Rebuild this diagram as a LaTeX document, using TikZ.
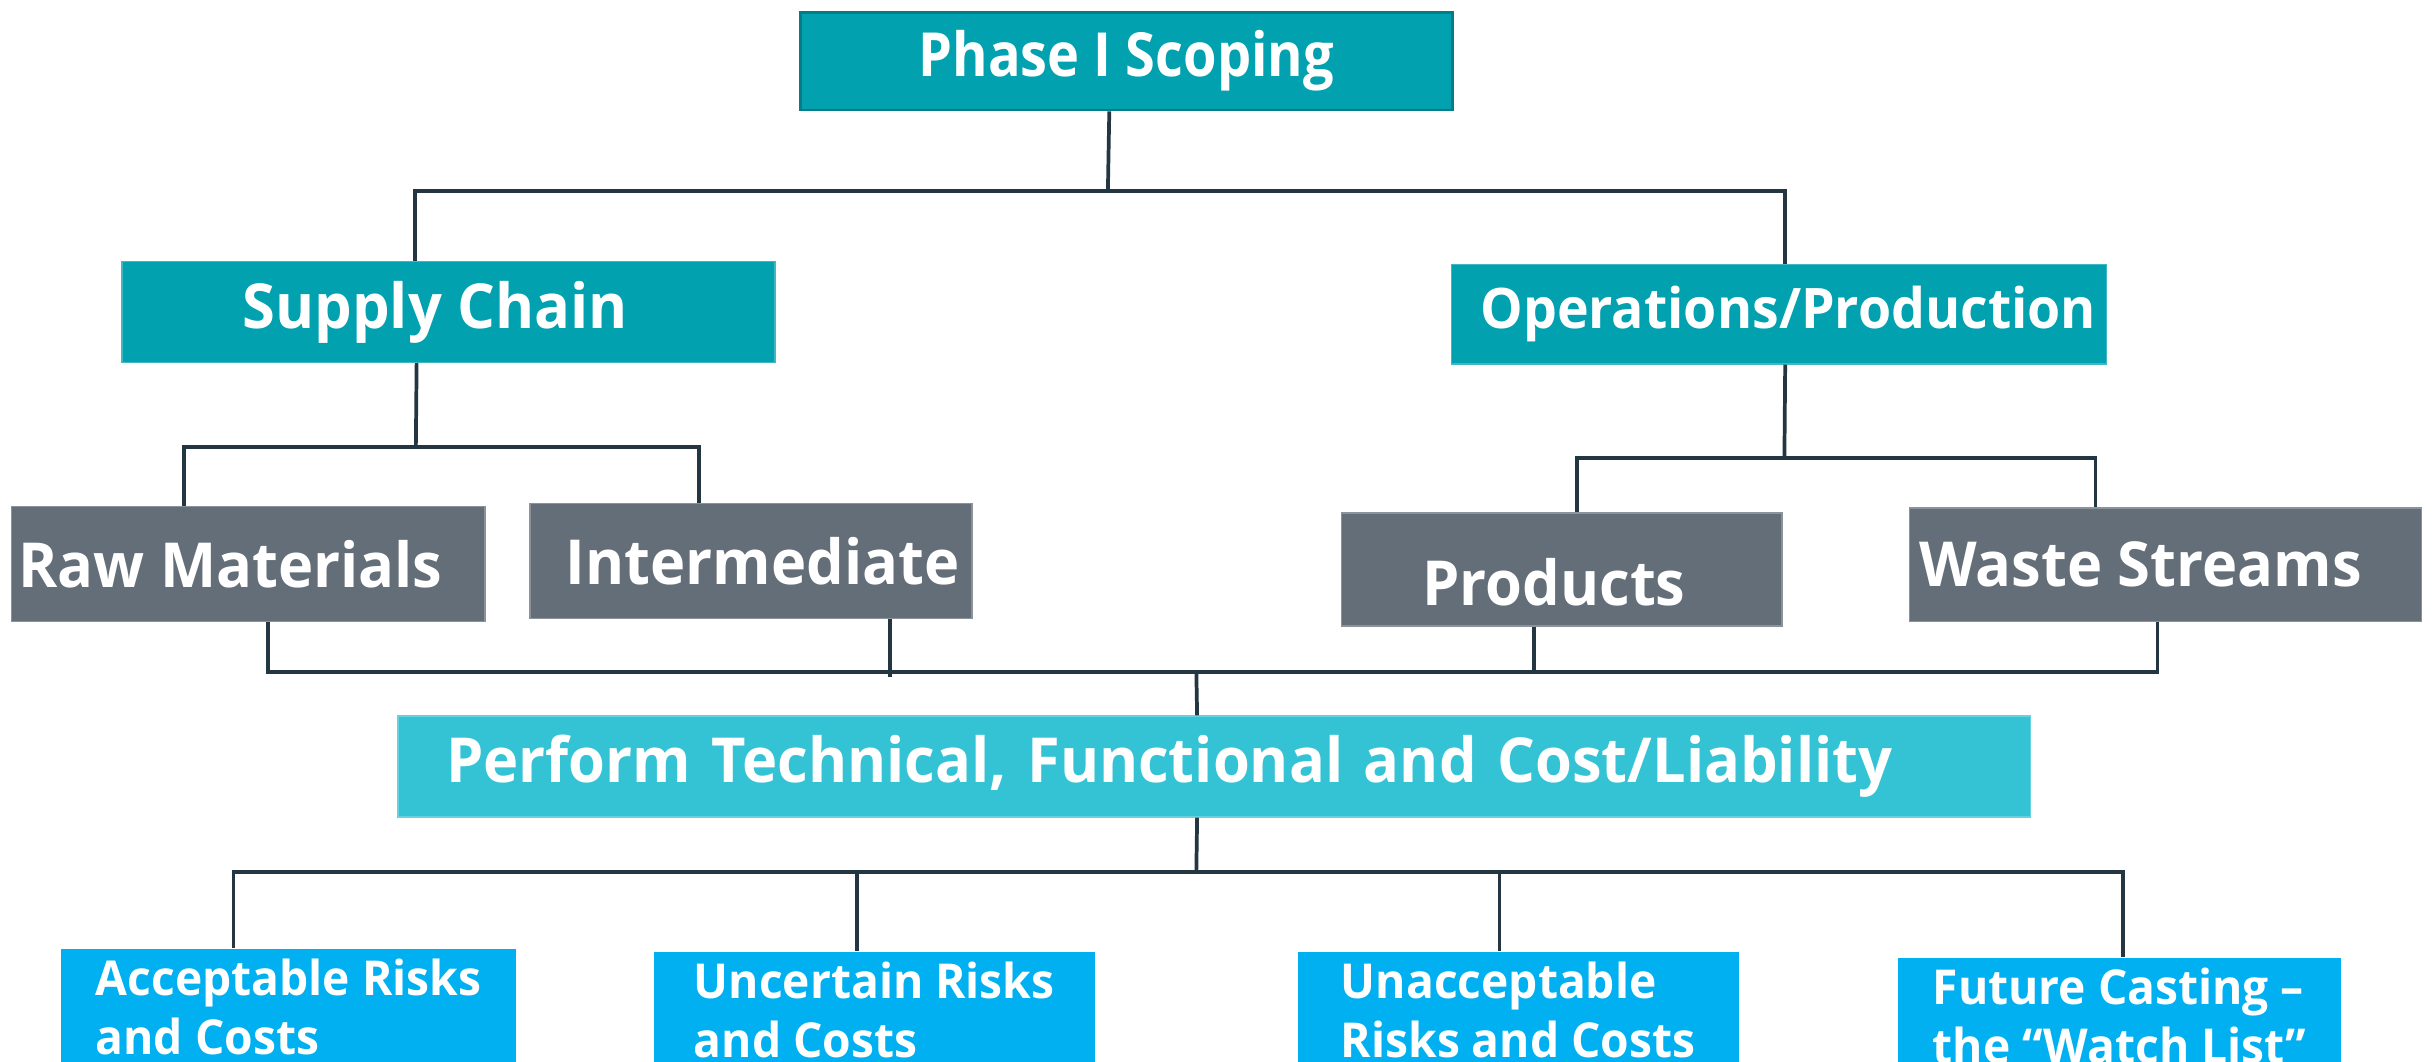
\documentclass[tikz,border=0pt]{standalone}
\usepackage{fontspec}
\setmainfont{Open Sans}[FakeStretch=0.96]
\newfontfamily\narrowfont{Open Sans}[FakeStretch=0.89]
\definecolor{tealc}{HTML}{01A1B0}
\definecolor{tealedge}{HTML}{007D88}
\definecolor{grayc}{HTML}{646E78}
\definecolor{cyanc}{HTML}{34C3D4}
\definecolor{bluec}{HTML}{00B0F0}
\definecolor{linec}{HTML}{233641}
\begin{document}
\begin{tikzpicture}[x=0.5pt,y=-0.5pt,
  box/.style={rectangle, inner sep=0pt, anchor=north west, text=white,
    font=\bfseries\fontsize{20}{24}\selectfont},
  tealbox/.style={box, fill=tealc, draw=tealc!75!white, line width=0.5pt},
  graybox/.style={box, fill=grayc, draw=grayc!75!white, line width=0.5pt},
  wide/.style={box, fill=cyanc, draw=cyanc!75!white, line width=0.5pt,
    align=left, inner xsep=15.5pt},
  leaf/.style={box, fill=bluec, align=left, inner xsep=0pt, inner ysep=3.2pt,
    text depth=10pt, font=\bfseries\fontsize{15.5}{19}\selectfont},
  conn/.style={draw=linec, line width=1.2pt}]
\useasboundingbox (0,0) rectangle (1568,684);
\clip (0,0) rectangle (1568,684);

% top level
\node[tealbox, draw=tealedge, line width=0.9pt, minimum width=210pt, minimum height=31.5pt,
  font=\narrowfont\bfseries\fontsize{19.6}{24}\selectfont]
  (phase) at (515,7) {Phase I Scoping};

% second level
\node[tealbox, minimum width=210.5pt, minimum height=32.5pt] (supply) at (78,168)
  {Supply Chain\hspace*{8.5pt}};
\node[tealbox, minimum width=211pt, minimum height=32pt,
  font=\bfseries\fontsize{18}{22}\selectfont] (ops) at (935,170)
  {\hspace*{6pt}Operations/Production};

% third level
\node[graybox, minimum width=152.5pt, minimum height=37pt] (raw) at (7,326)
  {Raw Materials\hspace*{11.5pt}};
\node[graybox, minimum width=142.5pt, minimum height=37pt] (inter) at (341,324)
  {\hspace*{7.5pt}Intermediate};
\node[graybox, minimum width=142pt, minimum height=36.5pt] (prod) at (864,330)
  {\rule{0pt}{23.7pt}Products\hspace*{5pt}};
\node[graybox, minimum width=165pt, minimum height=36.5pt] (waste) at (1230,327)
  {Waste Streams\hspace*{16pt}};

% assessment step
\node[wide, text width=495pt, minimum height=32.5pt] (perform) at (256,461)
  {Perform Technical, Functional and Cost/Liability};

% outcomes
\node[leaf, minimum width=146.5pt] (acc) at (39,611)
  {Acceptable Risks\\and Costs};
\node[leaf, minimum width=142pt] (unc) at (421,613)
  {Uncertain Risks\\and Costs};
\node[leaf, minimum width=142pt] (unacc) at (836,613)
  {Unacceptable\\Risks and Costs};
\node[leaf, minimum width=142.5pt] (future) at (1223,617)
  {Future Casting –\\the “Watch List”};

% junction points on the buses
\coordinate (j1) at (714,123);
\coordinate (j2) at (268,288);
\coordinate (j3) at (1150,295);
\coordinate (j4) at (771,433);
\coordinate (j5) at (771,562);

% connectors
\draw[conn] ([xshift=-5.5pt]phase.south) -- (j1);
\draw[conn] ([xshift=-10.75pt]supply.north) |- (j1) -| ([xshift=2pt]ops.north);

\draw[conn] ([xshift=-10.25pt]supply.south) -- (j2);
\draw[conn] ([xshift=-20.75pt]raw.north) |- (j2) -| ([xshift=-16.75pt]inter.north);

\draw[conn] ([xshift=2pt]ops.south) -- (j3);
\draw[conn] ([xshift=5pt]prod.north) |- (j3) -| ([xshift=-22.5pt]waste.north);

\draw[conn] ([xshift=6.25pt]raw.south) |- (j4) -| ([xshift=-2.5pt]waste.south);
\draw[conn] ([xshift=44.75pt]inter.south) -- ([xshift=44.75pt,yshift=-1.5pt]inter.south |- j4);
\draw[conn] ([xshift=-9pt]prod.south) -- ([xshift=-9pt]prod.south |- j4);
\draw[conn] (j4) -- ([xshift=-5.5pt]perform.north);

\draw[conn] ([xshift=-5.5pt]perform.south) -- (j5);
\draw[conn] ([xshift=-17.75pt]acc.north) |- (j5) -| ([xshift=1.25pt]future.north);
\draw[conn] ([xshift=-5.5pt]unc.north) -- ([xshift=-5.5pt]unc.north |- j5);
\draw[conn] ([xshift=-6pt]unacc.north) -- ([xshift=-6pt]unacc.north |- j5);
\end{tikzpicture}
\end{document}
